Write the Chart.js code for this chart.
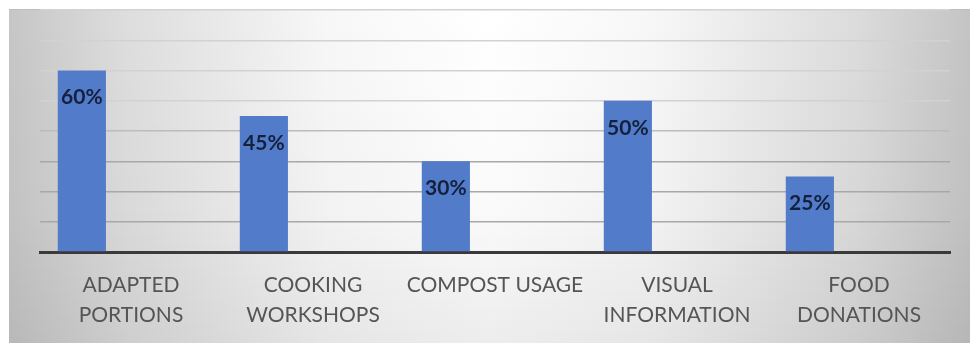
<!DOCTYPE html>
<html>
<head>
<meta charset="utf-8">
<script src="https://cdn.jsdelivr.net/npm/chart.js@4.4.1/dist/chart.umd.min.js"></script>
<style>
  html, body { margin: 0; padding: 0; background: #ffffff; }
  #wrap { width: 970px; height: 343px; position: relative; }
</style>
</head>
<body>
<div id="wrap"><canvas id="chart" width="970" height="343"></canvas></div>
<script>
// Categories (multi-line labels) and the share for each initiative
const categories = [
  ['ADAPTED', 'PORTIONS'],
  ['COOKING', 'WORKSHOPS'],
  'COMPOST USAGE',
  ['VISUAL', 'INFORMATION'],
  ['FOOD', 'DONATIONS']
];
const shareValues = [60, 45, 30, 50, 25];
// Two empty series keep the bar in the first slot of each category group
const emptySeriesB = [null, null, null, null, null];
const emptySeriesC = [null, null, null, null, null];
const yAxisMin = 0;
const yAxisMax = 80;
const yAxisStep = 10;

// Grey-to-white panel behind the plot
const panelBackground = {
  id: 'panelBackground',
  beforeDraw(chart) {
    const ctx = chart.ctx;
    const w = chart.width, h = chart.height;
    ctx.save();
    ctx.fillStyle = '#ffffff';
    ctx.fillRect(0, 0, w, h);
    const x0 = 9, y0 = 9;
    const g = ctx.createLinearGradient(x0, 0, w, 0);
    g.addColorStop(0.00, '#c6c6c6');
    g.addColorStop(0.12, '#dddddd');
    g.addColorStop(0.33, '#f7f7f7');
    g.addColorStop(0.50, '#ffffff');
    g.addColorStop(0.67, '#f7f7f7');
    g.addColorStop(0.88, '#dcdcdc');
    g.addColorStop(1.00, '#c4c4c4');
    ctx.fillStyle = g;
    ctx.fillRect(x0, y0, w - x0, h - y0);
    const v = ctx.createLinearGradient(0, y0, 0, h);
    v.addColorStop(0, 'rgba(0,0,0,0)');
    v.addColorStop(0.6, 'rgba(0,0,0,0.02)');
    v.addColorStop(1, 'rgba(0,0,0,0.07)');
    ctx.fillStyle = v;
    ctx.fillRect(x0, y0, w - x0, h - y0);
    ctx.strokeStyle = '#bdbdbd';
    ctx.lineWidth = 1;
    ctx.beginPath();
    ctx.moveTo(x0, y0 + 0.5);
    ctx.lineTo(w, y0 + 0.5);
    ctx.stroke();
    ctx.restore();
  }
};

// Percentage labels inside the top of each bar
const barValueLabels = {
  id: 'barValueLabels',
  afterDatasetsDraw(chart) {
    const ctx = chart.ctx;
    const meta = chart.getDatasetMeta(0);
    ctx.save();
    ctx.font = 'bold 21px Lato, "Open Sans", sans-serif';
    ctx.fillStyle = '#14203c';
    ctx.textAlign = 'center';
    ctx.textBaseline = 'middle';
    meta.data.forEach((bar, i) => {
      ctx.fillText(shareValues[i] + '%', bar.x, bar.y + 27);
    });
    ctx.restore();
  }
};

function gridShade(ctx) {
  const v = ctx.tick ? ctx.tick.value : 0;
  if (v <= 30) return '#a8a8a8';
  if (v <= 40) return '#bcbcbc';
  return '#d2d2d2';
}

new Chart(document.getElementById('chart'), {
  type: 'bar',
  data: {
    labels: categories,
    datasets: [
      { data: shareValues, backgroundColor: '#527bc9', borderWidth: 0 },
      { data: emptySeriesB, backgroundColor: '#527bc9', borderWidth: 0 },
      { data: emptySeriesC, backgroundColor: '#527bc9', borderWidth: 0 }
    ]
  },
  options: {
    responsive: false,
    animation: false,
    categoryPercentage: 0.81,
    barPercentage: 0.98,
    layout: { padding: { top: 10, right: 20, left: 0, bottom: 0 } },
    plugins: {
      legend: { display: false },
      tooltip: { enabled: false }
    },
    scales: {
      x: {
        grid: { display: false },
        border: { display: true, color: '#3a3a3a', width: 3 },
        ticks: {
          color: '#555555',
          font: { family: 'Lato, "Open Sans", sans-serif', size: 21, lineHeight: '30px' },
          padding: 10,
          maxRotation: 0,
          autoSkip: false
        },
        afterFit(scale) { scale.height = 91; }
      },
      y: {
        min: yAxisMin,
        max: yAxisMax,
        ticks: { stepSize: yAxisStep, display: false },
        grid: { drawTicks: false, color: gridShade, lineWidth: 1.5 },
        border: { display: false },
        afterFit(scale) { scale.width = 40; }
      }
    }
  },
  plugins: [panelBackground, barValueLabels]
});
</script>
</body>
</html>
